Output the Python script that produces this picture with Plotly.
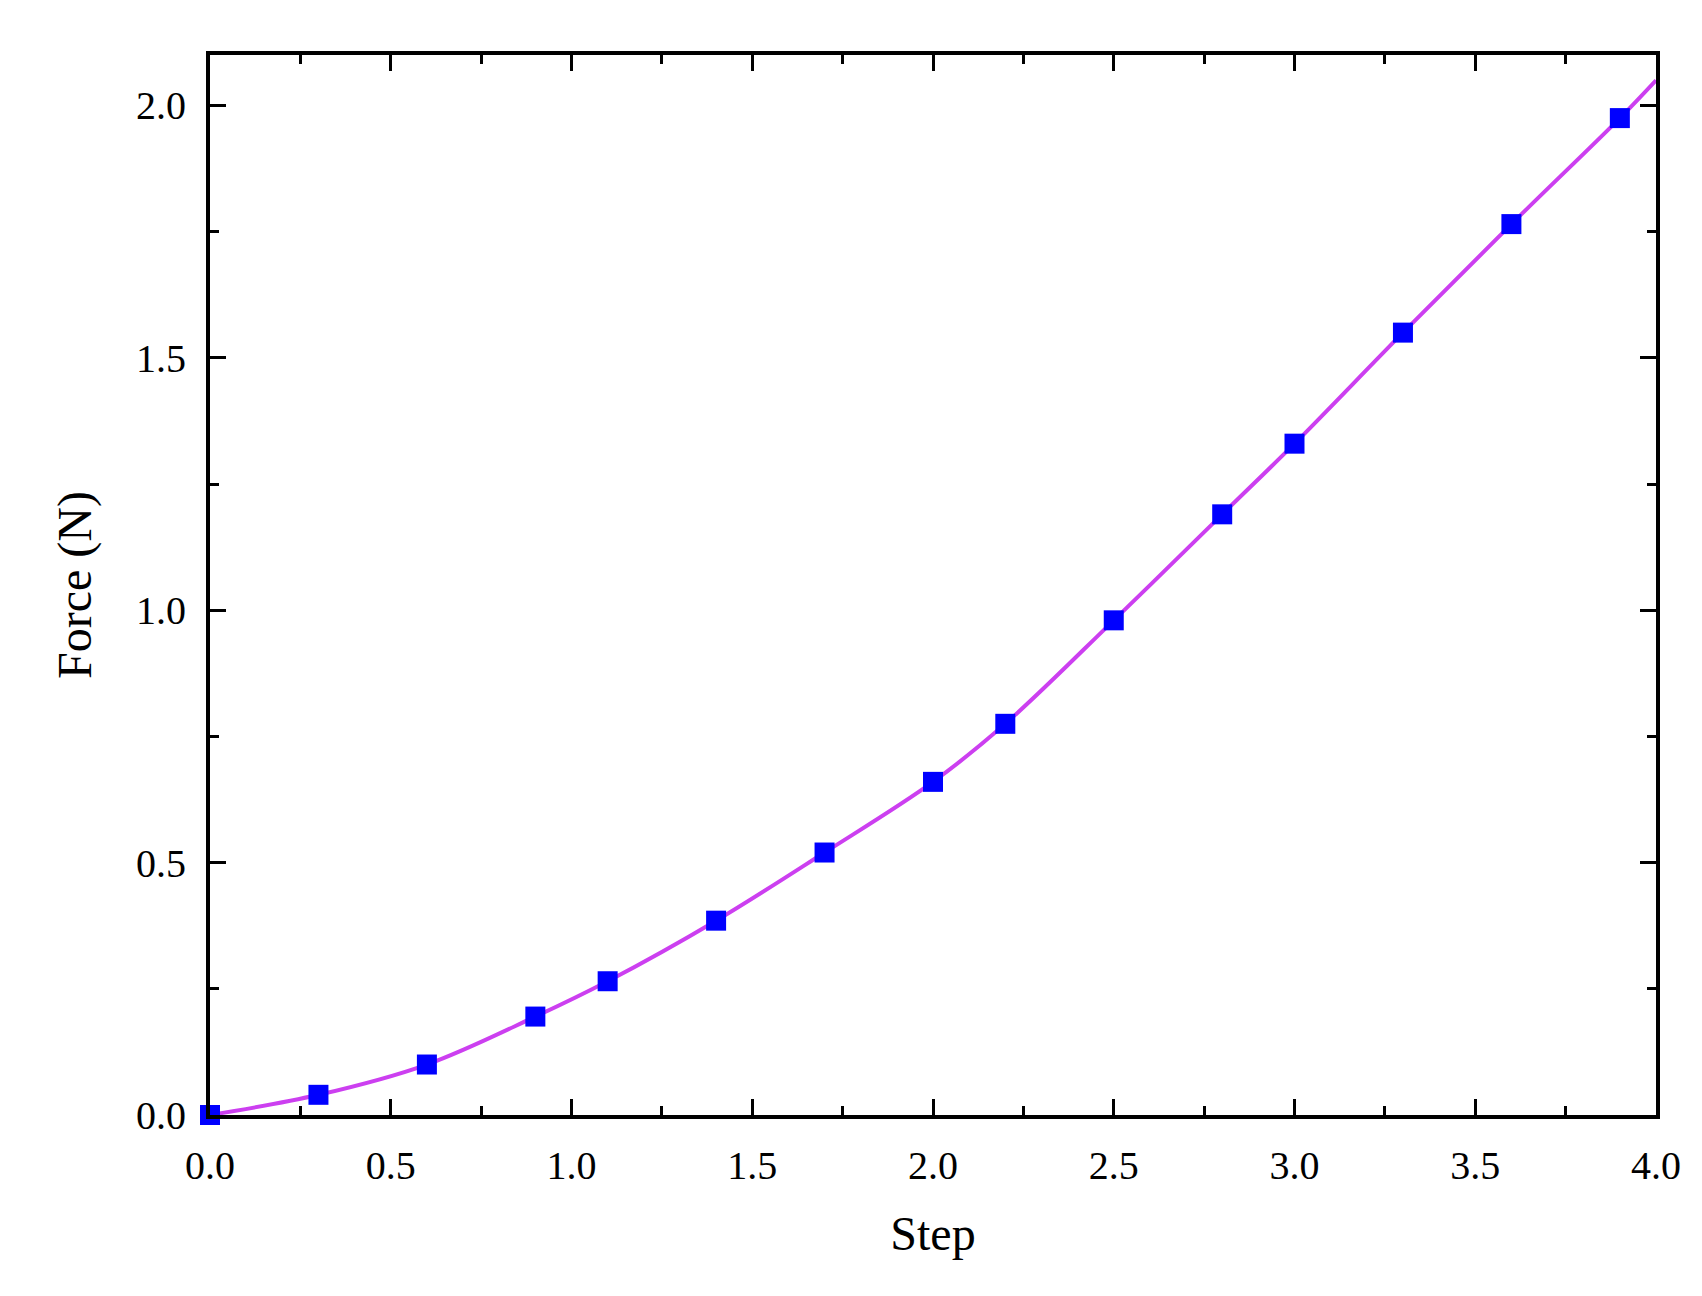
import plotly.graph_objects as go

step = [0, 0.3, 0.6, 0.9, 1.1, 1.4, 1.7, 2.0, 2.2, 2.5, 2.8, 3.0, 3.3, 3.6, 3.9]
force = [0.0, 0.04, 0.10, 0.195, 0.265, 0.385, 0.52, 0.66, 0.775, 0.98, 1.19, 1.33, 1.55, 1.765, 1.975]
line_x = step + [4.0]
line_y = force + [2.05]

fig = go.Figure()
fig.add_trace(go.Scatter(x=line_x, y=line_y, mode="lines", line=dict(color="#cc3ff0", width=4, shape="spline"), showlegend=False))
fig.add_trace(go.Scatter(x=step, y=force, mode="markers", marker=dict(symbol="square", size=20, color="#0000ff"), showlegend=False, cliponaxis=False))

ax = dict(showline=True, linecolor="black", linewidth=4, mirror="ticks", ticks="inside",
          ticklen=16, tickwidth=3, tickcolor="black", showgrid=False, zeroline=False,
          ticklabelstandoff=12,
          tickfont=dict(family="Liberation Serif", size=40, color="black"),
          minor=dict(ticks="inside", ticklen=9, tickwidth=3, tickcolor="black", showgrid=False, dtick=0.25))
fig.update_xaxes(**ax, range=[0, 4], dtick=0.5, tickformat=".1f",
                 title=dict(text="Step", font=dict(family="Liberation Serif", size=48, color="black"), standoff=30))
fig.update_yaxes(**ax, range=[0, 2.1], dtick=0.5, tickformat=".1f",
                 title=dict(text="Force (N)", font=dict(family="Liberation Serif", size=48, color="black"), standoff=30))
fig.update_layout(width=1702, height=1296, plot_bgcolor="white", paper_bgcolor="white",
                  margin=dict(l=202, r=54, t=47, b=189))
fig.write_html("out.html")
